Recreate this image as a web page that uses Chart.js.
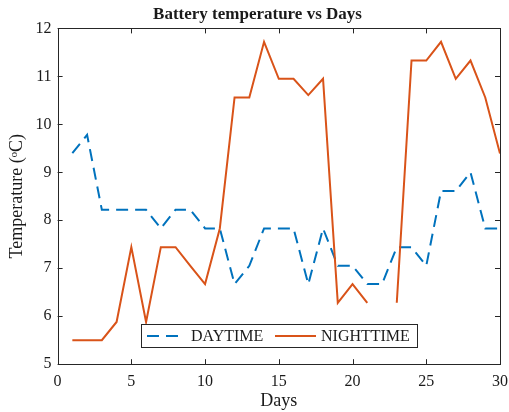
<!DOCTYPE html>
<html>
<head>
<meta charset="utf-8">
<script src="https://cdn.jsdelivr.net/npm/chart.js@4.4.0/dist/chart.umd.min.js"></script>
<style>
  html, body { margin: 0; padding: 0; background: #fff; }
  #wrap { width: 509px; height: 412px; position: relative; }
</style>
</head>
<body>
<div id="wrap"><canvas id="chart"></canvas></div>
<script>
// values
const days = [1, 2, 3, 4, 5, 6, 7, 8, 9, 10, 11, 12, 13, 14, 15,
              16, 17, 18, 19, 20, 21, 22, 23, 24, 25, 26, 27, 28, 29, 30];
const daytime = [9.40, 9.78, 8.22, 8.22, 8.22, 8.22, 7.83, 8.22, 8.22, 7.83,
                 7.83, 6.67, 7.05, 7.83, 7.83, 7.83, 6.67, 7.83, 7.05, 7.05,
                 6.67, 6.67, 7.44, 7.44, 7.05, 8.61, 8.61, 9.00, 7.83, 7.83];
const nighttime = [5.50, 5.50, 5.50, 5.88, 7.44, 5.88, 7.44, 7.44, 7.05, 6.67,
                   7.83, 10.56, 10.56, 11.72, 10.95, 10.95, 10.61, 10.95, 6.28, 6.67,
                   6.28, null, 6.28, 11.33, 11.33, 11.72, 10.95, 11.33, 10.56, 9.39];
const seriesNames = ["DAYTIME", "NIGHTTIME"];
const xTicks = [0, 5, 10, 15, 20, 25, 30];
const yTicks = [5, 6, 7, 8, 9, 10, 11, 12];

const BLUE = "#0072BD";
const ORANGE = "#D95319";
const INK = "#1a1a1a";
const SERIF = "'Liberation Serif', 'Times New Roman', serif";
const DASH = [12, 7];

// MATLAB-style box: frame plus inward ticks on all four sides
const boxPlugin = {
  id: "box",
  afterDatasetsDraw(chart) {
    const { ctx, chartArea: a, scales } = chart;
    const len = 5;
    ctx.save();
    ctx.strokeStyle = "#262626";
    ctx.lineWidth = 1;
    ctx.beginPath();
    xTicks.forEach(v => {
      const x = Math.round(scales.x.getPixelForValue(v)) + 0.5;
      ctx.moveTo(x, a.bottom); ctx.lineTo(x, a.bottom - len);
      ctx.moveTo(x, a.top); ctx.lineTo(x, a.top + len);
    });
    yTicks.forEach(v => {
      const y = Math.round(scales.y.getPixelForValue(v)) + 0.5;
      ctx.moveTo(a.left, y); ctx.lineTo(a.left + len, y);
      ctx.moveTo(a.right, y); ctx.lineTo(a.right - len, y);
    });
    ctx.stroke();
    ctx.strokeRect(Math.round(a.left) + 0.5, Math.round(a.top) + 0.5,
                   Math.round(a.right - a.left), Math.round(a.bottom - a.top));
    ctx.restore();
  },
  afterDraw(chart) {
    // legend box sitting inside the plot, like the reference
    const { ctx } = chart;
    const bx = 141, by = 324, bw = 276, bh = 23;
    const cy = by + bh / 2 + 0.5;
    ctx.save();
    ctx.fillStyle = "#fff";
    ctx.fillRect(bx, by, bw, bh);
    ctx.strokeStyle = "#262626";
    ctx.lineWidth = 1;
    ctx.strokeRect(bx + 0.5, by + 0.5, bw, bh);
    ctx.lineWidth = 2;
    ctx.strokeStyle = BLUE;
    ctx.setLineDash(DASH);
    ctx.beginPath(); ctx.moveTo(147, cy); ctx.lineTo(182, cy); ctx.stroke();
    ctx.setLineDash([]);
    ctx.strokeStyle = ORANGE;
    ctx.beginPath(); ctx.moveTo(275, cy); ctx.lineTo(316, cy); ctx.stroke();
    ctx.fillStyle = INK;
    ctx.font = "16px " + SERIF;
    ctx.textBaseline = "middle";
    ctx.fillText(seriesNames[0], 191, cy + 1);
    ctx.fillText(seriesNames[1], 321, cy + 1);
    ctx.restore();
  },
};

const toPoints = arr => days.map((d, i) => ({ x: d, y: arr[i] }));

new Chart(document.getElementById("chart"), {
  type: "line",
  data: {
    datasets: [
      {
        label: seriesNames[0],
        data: toPoints(daytime),
        borderColor: BLUE,
        borderWidth: 2,
        borderDash: DASH,
        pointRadius: 0,
        tension: 0,
        fill: false,
        order: 2,
      },
      {
        label: seriesNames[1],
        data: toPoints(nighttime),
        borderColor: ORANGE,
        borderWidth: 2,
        pointRadius: 0,
        tension: 0,
        fill: false,
        spanGaps: false,
        order: 1,
      },
    ],
  },
  options: {
    responsive: true,
    maintainAspectRatio: false,
    animation: false,
    layout: { padding: { top: 0, right: 0, bottom: 0, left: 6 } },
    plugins: {
      legend: { display: false },
      tooltip: { enabled: false },
      title: {
        display: true,
        text: "Battery temperature vs Days",
        color: INK,
        font: { family: SERIF, size: 17, weight: "bold" },
        padding: { top: 4, bottom: 4 },
      },
    },
    scales: {
      x: {
        type: "linear",
        min: 0, max: 30,
        afterBuildTicks: s => { s.ticks = xTicks.map(v => ({ value: v })); },
        // only half of the "30" label needs room on the right, as in the reference
        afterFit: s => { s.paddingRight = 9; s.paddingLeft = 0; },
        grid: { display: false, drawTicks: false },
        border: { display: false },
        ticks: { color: INK, font: { family: SERIF, size: 16 }, padding: 8, maxRotation: 0 },
        title: {
          display: true, text: "Days", color: INK,
          font: { family: SERIF, size: 18 }, padding: { top: -9, bottom: 0 },
        },
      },
      y: {
        type: "linear",
        min: 5, max: 12,
        afterBuildTicks: s => { s.ticks = yTicks.map(v => ({ value: v })); },
        grid: { display: false, drawTicks: false },
        border: { display: false },
        ticks: { color: INK, font: { family: SERIF, size: 16 }, padding: 6 },
        title: {
          display: true, text: "Temperature (ᵒC)", color: INK,
          font: { family: SERIF, size: 18 }, padding: { top: 0, bottom: 2 },
        },
      },
    },
  },
  plugins: [boxPlugin],
});
</script>
</body>
</html>
